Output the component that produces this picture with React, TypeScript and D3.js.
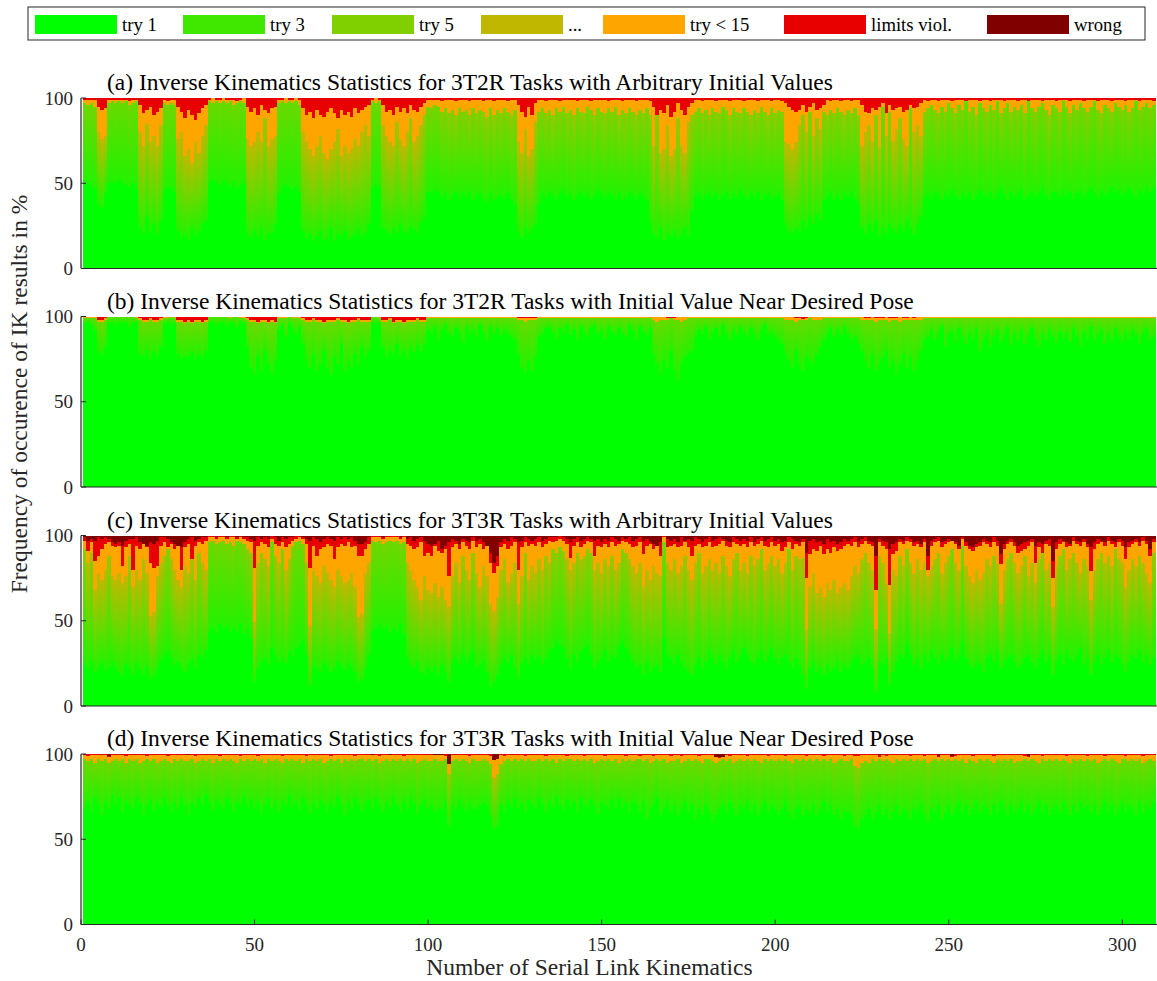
import React from "react";
import * as d3 from "d3";

// IK statistics per serial-link kinematics (bars 1..309), cumulative tops in %
// try1Top: end of "try 1", greenTop: end of the retry tries (try 2 ... ),
// orangeTop: end of "try < 15", redTop: end of "limits viol." (rest up to 100 = "wrong")

const legendLabels = ["try 1", "try 3", "try 5", "...", "try < 15", "limits viol.", "wrong"];
const legendColors = ["#00ff00", "#40e800", "#80d000", "#c0b800", "#ffa500", "#e80000", "#800000"];

const titles = [
  "(a) Inverse Kinematics Statistics for 3T2R Tasks with Arbitrary Initial Values",
  "(b) Inverse Kinematics Statistics for 3T2R Tasks with Initial Value Near Desired Pose",
  "(c) Inverse Kinematics Statistics for 3T3R Tasks with Arbitrary Initial Values",
  "(d) Inverse Kinematics Statistics for 3T3R Tasks with Initial Value Near Desired Pose",
];

const xTicks = [0, 50, 100, 150, 200, 250, 300];
const yTicks = [0, 50, 100];

// ---------- (a) 3T2R arbitrary ----------
const aTry1Top = [
  49,50,48,47,38,36,44,50,51,50, 52,50,49,48,50,46,24,20,30,22,
  26,20,28,46,48,47,45,22,18,20, 17,24,19,22,26,28,50,52,51,49,
  52,50,48,51,47,49,50,20,18,22, 19,24,17,20,21,26,44,47,49,48,
  46,48,45,22,18,20,16,19,22,17, 18,24,16,20,19,22,17,18,20,23,
  19,21,26,47,49,48,24,22,20,24, 21,26,22,20,25,23,21,27,30,45,
  44,46,45,42,44,40,43,45,41,44, 42,45,40,43,44,41,39,44,40,42,
  43,41,44,40,38,22,18,24,20,23, 26,38,44,42,45,43,41,44,46,42,
  44,40,43,45,42,44,41,43,46,44, 42,45,43,41,44,40,42,45,43,41,
  44,42,40,28,20,18,24,17,21,19, 22,18,20,24,19,34,42,44,41,43,
  45,42,44,40,43,45,41,44,42,46, 43,41,44,42,45,40,43,44,41,42,
  44,40,26,22,20,24,22,28,24,30, 26,32,28,40,42,44,41,43,40,44,
  42,45,41,38,24,20,26,22,28,19, 24,21,26,23,20,25,22,28,24,20,
  26,30,42,44,41,45,43,40,44,42, 46,43,41,44,42,45,40,43,46,44,
  42,45,41,44,47,43,40,45,42,44, 46,41,43,45,42,44,47,43,40,45,
  44,42,46,43,45,41,44,46,42,45, 47,44,42,46,43,45,48,44,46,43,
  45,47,44,42,46,44,48,45,47,
];
const aGreenTop = [
  97,96,97,95,80,76,78,97,98,97, 98,97,98,96,97,98,80,72,85,74,
  78,72,84,97,96,97,96,76,80,66, 70,62,74,68,78,84,98,97,98,97,
  98,97,98,96,97,98,97,76,72,74, 80,74,88,72,76,78,97,98,97,98,
  97,98,96,80,74,70,66,72,78,68, 64,70,74,82,66,72,68,70,76,72,
  80,84,78,98,97,98,84,78,74,72, 86,76,72,80,88,74,78,84,90,95,
  94,96,95,92,94,91,93,90,94,92, 93,90,94,91,93,92,89,94,90,93,
  91,94,92,90,93,74,68,82,66,70, 86,92,94,91,93,90,94,92,95,91,
  93,90,94,92,91,95,93,90,94,92, 91,94,92,95,90,93,91,94,92,90,
  93,91,94,90,72,90,68,70,84,66, 70,88,72,68,86,90,92,94,91,93,
  90,94,92,91,95,93,90,94,92,91, 94,92,90,93,91,95,92,90,94,91,
  93,92,74,73,70,74,84,90,80,92, 78,88,82,92,90,93,91,94,92,90,
  93,91,94,90,72,80,84,74,90,71, 95,78,92,75,82,88,76,72,94,80,
  84,78,92,94,96,93,91,95,92,97, 94,91,96,93,98,92,95,90,97,94,
  92,96,93,98,91,94,97,92,95,93, 96,91,98,94,92,95,97,93,90,96,
  94,92,98,95,91,96,93,97,94,92, 95,98,93,91,96,94,92,97,95,93,
  96,92,94,98,93,95,97,94,96,
];
const aOrangeTop = [
  99,99,99,99,95,93,94,99,99,99, 99,99,99,98,99,99,96,91,93,95,
  90,92,94,99,98,99,99,95,92,88, 93,90,87,91,94,96,99,100,99,99,
  100,99,99,99,98,99,100,95,92,94, 90,96,93,91,94,95,99,99,100,99,
  99,100,99,94,90,92,88,93,90,89, 92,94,91,88,93,90,92,89,94,91,
  93,95,96,99,100,99,96,92,93,90, 95,92,94,91,96,93,92,95,97,99,
  99,99,99,98,99,99,99,98,99,99, 99,98,99,99,99,98,99,99,98,99,
  99,99,98,99,99,96,92,89,95,90, 97,99,99,98,99,99,99,98,99,99,
  99,99,98,99,99,99,98,99,99,99, 99,98,99,99,99,98,99,99,99,98,
  99,99,99,98,95,90,93,91,96,89, 92,97,93,90,95,97,99,99,98,99,
  99,99,98,99,99,99,98,99,99,99, 98,99,99,99,98,99,99,99,98,99,
  99,98,97,95,93,92,93,96,92,95, 97,93,94,96,99,98,99,99,98,99,
  99,98,99,99,96,92,91,94,93,95, 97,91,96,93,94,95,92,93,96,94,
  95,97,99,98,99,99,98,99,99,99, 98,99,99,99,98,99,99,99,98,99,
  99,98,99,99,99,98,99,99,99,98, 99,99,98,99,99,99,98,99,99,99,
  98,99,99,99,98,99,99,99,98,99, 99,99,98,99,99,99,98,99,99,99,
  98,99,99,99,98,99,99,99,98,
];

// ---------- (b) 3T2R near desired pose ----------
const bTry1Top = [
  96,97,95,92,80,78,82,96,97,95, 97,96,97,94,96,97,78,76,80,75,
  79,77,82,96,97,95,96,78,75,77, 76,79,75,78,76,80,96,97,95,96,
  97,95,97,96,94,97,96,82,70,66, 76,68,80,72,66,74,92,95,88,96,
  93,90,94,84,74,70,78,68,72,80, 70,66,76,72,84,68,74,70,78,72,
  82,76,80,97,96,97,82,76,80,78, 84,77,80,75,82,79,83,80,84,92,
  90,94,86,92,95,90,88,93,91,85, 94,90,92,88,95,91,86,94,90,93,
  89,92,90,88,86,78,70,67,74,68, 76,88,90,93,94,91,87,93,90,95,
  89,92,86,94,91,88,93,95,90,92, 87,94,91,89,93,90,88,95,92,86,
  94,91,89,93,78,72,66,74,70,80, 68,63,72,76,78,80,88,92,90,94,
  87,91,93,88,95,90,86,92,89,94, 91,88,93,90,86,92,95,89,91,88,
  86,84,78,74,70,80,72,68,76,74, 72,78,82,86,90,93,88,92,89,94,
  90,86,88,84,80,74,70,78,68,72, 76,80,70,74,66,72,78,70,76,68,
  74,80,86,88,92,86,90,94,82,89, 91,85,93,88,84,91,87,93,80,86,
  90,82,88,92,85,89,94,83,90,86, 92,84,89,93,87,82,90,86,92,88,
  84,91,87,90,85,93,88,82,91,87, 94,86,89,92,84,90,86,93,88,85,
  91,87,92,89,84,90,93,86,88,
];
const bGreenTop = [
  99,99,99,99,97,97,98,100,100,100, 100,100,100,100,100,99,98,97,97,98,
  97,97,98,99,99,100,99,97,97,96, 97,96,97,97,96,97,100,100,100,100,
  100,100,99,100,100,99,99,98,97,97, 96,97,97,96,97,96,99,99,99,100,
  99,99,99,98,97,97,98,97,97,96, 97,97,97,98,97,97,96,97,97,98,
  97,97,97,100,100,99,97,97,98,96, 97,97,96,97,97,97,98,97,97,99,
  99,99,99,99,99,99,99,99,99,99, 99,99,99,99,99,99,99,99,99,99,
  99,99,99,99,99,98,98,97,98,98, 98,99,99,99,99,99,99,99,99,99,
  99,99,99,99,99,99,99,99,99,99, 99,99,99,99,99,99,99,99,99,99,
  99,99,99,99,98,97,98,98,98,99, 98,98,97,98,99,99,99,99,99,99,
  99,99,99,99,99,99,99,99,99,99, 99,99,99,99,99,99,99,99,99,99,
  99,99,98,98,98,97,98,98,98,99, 98,98,98,99,99,99,99,99,99,99,
  99,99,99,99,98,98,98,98,97,98, 98,98,97,98,98,97,98,98,98,98,
  98,98,99,99,99,99,99,99,99,99, 99,99,99,99,99,99,99,99,99,99,
  99,99,99,99,99,99,99,99,99,99, 99,99,99,99,99,99,99,99,99,99,
  99,99,99,99,99,99,99,99,99,99, 99,99,99,99,99,99,99,99,99,99,
  99,99,99,99,99,99,99,99,99,
];
const bOrangeTop = [
  100,100,100,100,98,98,99,100,100,100, 100,100,100,100,100,100,99,98,98,99,
  98,98,99,100,100,100,100,98,98,97, 98,97,98,98,97,98,100,100,100,100,
  100,100,100,100,100,100,100,99,98,98, 97,98,98,97,98,97,100,100,100,100,
  100,100,100,99,98,98,99,98,98,97, 98,98,98,99,98,98,97,98,98,99,
  98,98,98,100,100,100,98,98,99,97, 98,98,97,98,98,98,99,98,98,100,
  100,100,100,100,100,100,100,100,100,100, 100,100,100,100,100,100,100,100,100,100,
  100,100,100,100,100,99,99,99,99,99, 99,100,100,100,100,100,100,100,100,100,
  100,100,100,100,100,100,100,100,100,100, 100,100,100,100,100,100,100,100,100,100,
  100,100,100,100,99.5,99.5,99.5,99.5,99,98.5, 99,99.5,99.5,99.5,99.5,99.5,100,100,100,100,
  100,100,100,100,100,100,100,100,100,100, 100,100,100,100,100,100,100,100,100,100,
  100,100,99.5,99.5,99.5,99,99,98.5,99,99.5, 99.5,99.5,99.5,100,100,100,100,100,100,100,
  100,100,100,100,99.5,99,99,99.5,99,99, 99,99.5,99,99,99,99.5,99,99,99.5,99,
  99.5,99.5,100,100,100,100,100,100,100,100, 100,100,100,100,100,100,100,100,100,100,
  100,100,100,100,100,100,100,100,100,100, 100,100,100,100,100,100,100,100,100,100,
  100,100,100,100,100,100,100,100,100,99.5, 100,100,100,100,99.5,99.5,99.5,100,100,100,
  99.5,99.5,99.5,99.5,100,100,100,100,100,
];
const bRedTop = [
  100,100,100,100,100,100,100,100,100,100, 100,100,100,100,100,100,100,100,100,100,
  100,100,100,100,100,100,100,100,100,100, 99.7,100,100,100,100,100,100,100,100,100,
  100,100,100,100,100,100,100,100,100,100, 100,100,99.7,100,100,100,100,100,100,100,
  100,100,100,100,100,100,100,100,100,100, 100,100,100,100,100,100,100,100,100,100,
  100,100,100,100,100,100,100,100,100,100, 100,100,100,100,100,100,100,100,100,100,
  100,100,100,100,100,100,100,100,100,100, 100,100,100,100,100,100,100,100,100,100,
  100,100,100,100,100,100,100,100,100,100, 100,100,100,100,100,100,100,100,100,100,
  100,100,100,100,100,100,100,100,100,100, 100,100,100,100,100,100,100,100,100,100,
  100,100,100,100,100,100,99.6,100,100,100, 100,100,100,100,100,100,100,100,100,100,
  100,100,100,100,100,100,100,100,100,100, 100,100,100,100,100,100,100,100,100,100,
  100,100,100,100,100,100,100,100,100,100, 100,100,100,100,100,100,100,100,100,100,
  100,100,99.6,100,100,100,100,100,100,100, 100,100,100,100,100,100,100,100,100,100,
  100,100,100,100,100,100,100,100,100,100, 100,100,100,100,100,100,100,100,100,100,
  100,100,100,100,100,100,100,100,100,100, 100,100,100,100,100,100,100,100,100,100,
  100,100,100,100,100,100,100,100,100,100, 100,100,100,100,100,100,100,100,100,100,
  100,100,100,100,100,100,100,100,100,
];

// ---------- (c) 3T3R arbitrary ----------
const cTry1Top = [
  24,22,26,20,22,25,21,23,26,22, 20,18,24,22,19,25,21,18,23,16,
  18,22,27,30,32,28,24,26,22,20, 24,27,22,30,28,32,44,46,42,48,
  45,47,43,46,44,48,42,45,40,14, 22,26,28,24,34,30,26,28,25,32,
  29,34,36,38,30,12,24,22,20,25, 23,20,22,26,24,21,25,23,20,14,
  16,22,30,44,46,48,45,47,43,46, 44,48,42,28,24,22,26,20,18,22,
  20,23,18,24,20,14,26,28,24,30, 26,28,32,22,24,27,20,12,14,18,
  24,28,26,30,22,16,25,28,24,30, 27,29,24,28,32,34,38,36,34,28,
  22,30,26,32,34,36,30,22,26,28, 32,26,30,28,35,38,34,30,26,22,
  24,18,26,20,22,24,20,40,30,28, 24,30,26,22,20,18,24,28,22,26,
  32,28,24,30,26,22,28,32,26,30, 34,30,26,24,28,32,26,30,34,28,
  24,28,30,26,22,28,24,18,10,22, 26,20,22,18,24,20,22,26,20,24,
  22,26,28,30,24,26,28,22,8,26, 24,28,12,20,26,30,28,36,30,24,
  28,22,30,26,32,28,24,30,26,28, 34,26,30,38,28,24,22,26,24,20,
  28,30,26,32,22,26,28,30,26,22, 24,28,30,26,22,28,32,26,30,18,
  26,30,24,32,28,26,30,34,24,28, 18,26,30,24,28,32,26,30,28,24,
  20,26,30,28,32,26,30,24,28,
];
const cGreenTop = [
  92,84,90,68,78,74,80,88,76,74, 78,72,76,88,70,80,74,86,78,53,
  55,76,84,88,92,86,80,74,70,82, 78,86,74,90,84,80,96,97,95,96,
  97,95,96,94,97,96,95,92,90,49, 84,90,86,82,96,88,84,92,80,86,
  94,96,97,95,84,47,80,76,72,82, 78,74,70,80,76,72,74,78,70,52,
  54,78,84,97,96,97,95,96,97,96, 97,95,96,84,80,74,70,62,76,68,
  66,72,64,70,62,58,76,84,72,88, 80,74,90,78,70,82,76,60,56,64,
  80,86,72,78,84,60,76,90,74,82, 78,86,80,88,84,92,90,93,91,86,
  80,84,90,86,88,92,90,80,84,78, 86,82,88,80,84,92,90,86,82,78,
  84,70,80,74,82,78,76,96,84,80, 86,78,82,88,80,74,84,90,78,82,
  86,80,84,78,88,82,76,86,90,80, 84,78,88,82,86,92,80,84,88,82,
  86,78,84,92,80,88,86,87,45,70, 78,66,70,64,72,68,74,66,70,72,
  68,76,82,78,86,90,84,80,45,88, 84,72,43,80,76,88,82,92,84,78,
  86,80,84,76,82,86,90,78,84,88, 92,84,80,94,82,76,72,80,74,78,
  86,82,88,84,60,80,86,90,84,78, 82,88,76,84,72,86,90,80,84,58,
  82,88,92,80,86,90,84,78,86,82, 62,80,86,90,84,88,82,92,86,84,
  70,80,86,82,88,84,78,72,90,
];
const cOrangeTop = [
  97,91,96,85,88,92,95,96,94,93, 94,82,93,95,80,94,92,95,93,84,
  81,82,94,96,93,95,92,94,80,93, 95,86,94,96,95,97,99,99,98,99,
  99,98,99,99,98,99,98,97,96,81, 94,96,95,93,98,95,94,96,93,95,
  97,98,99,98,95,81,94,88,92,93, 95,94,86,93,95,94,96,93,94,88,
  88,92,95,99,99,99,98,99,99,99, 99,98,99,95,94,92,93,96,88,90,
  88,94,91,90,92,76,93,95,92,96, 94,92,97,93,95,92,94,84,78,82,
  93,95,92,94,96,80,93,96,94,95, 94,96,93,95,97,96,97,98,97,95,
  87,94,96,93,95,97,96,88,94,93, 95,93,96,94,95,97,96,95,93,94,
  96,89,94,95,92,94,88,99,93,94, 95,93,94,96,93,88,94,95,93,94,
  96,93,94,95,97,94,93,96,95,94, 95,93,96,94,95,97,94,93,96,94,
  95,91,93,96,92,95,94,96,75,89, 92,91,94,89,92,90,93,91,92,94,
  95,94,96,93,95,97,95,94,68,96, 94,92,71,89,91,96,95,97,96,94,
  95,93,96,80,94,96,97,93,95,96, 97,95,92,98,94,92,91,93,94,96,
  95,93,96,94,83,92,95,96,94,90, 91,92,94,96,84,93,90,95,94,75,
  92,95,96,93,94,97,95,94,96,93, 79,92,95,96,94,97,95,93,96,94,
  86,93,95,96,94,97,95,88,96,
];
const cRedTop = [
  99,97,98,97,99,98,99,98,96,95, 96,94,97,98,98,99,96,95,94,96,
  95,97,99,99,98,96,95,94,93,96, 98,99,97,98,99,99,100,100,99,100,
  100,99,100,100,99,100,99,99,98,97, 99,98,99,98,100,99,97,99,98,99,
  99,100,100,99,98,97,99,98,96,98, 99,98,97,99,98,99,98,99,97,95,
  95,96,99,100,100,100,99,100,100,100, 100,99,100,98,99,97,98,99,97,95,
  94,95,97,92,94,96,98,97,95,98, 97,96,99,97,98,96,94,90,84,88,
  96,98,97,99,98,96,97,99,98,97, 98,99,97,98,99,99,99,100,99,98,
  96,98,99,97,98,99,98,97,98,96, 98,97,99,98,97,99,98,99,97,98,
  99,97,98,96,95,94,96,100,98,97, 98,96,99,97,98,97,99,98,96,98,
  99,97,98,99,98,97,96,99,98,97, 98,97,99,96,98,99,97,98,99,97,
  98,96,97,99,98,97,96,98,90,97, 98,96,97,95,98,96,97,95,96,98,
  97,98,99,96,98,99,97,96,88,98, 97,96,92,95,96,98,97,99,98,96,
  97,95,98,88,97,98,99,96,97,98, 97,96,94,99,96,94,93,95,96,98,
  97,96,99,97,89,95,97,98,96,94, 95,96,97,98,94,96,95,97,98,85,
  96,98,97,96,95,99,97,96,98,95, 93,96,98,97,96,99,97,96,98,97,
  93,96,97,98,96,99,97,92,98,
];

// ---------- (d) 3T3R near desired pose ----------
const dTry1Top = [
  68,72,66,74,70,64,72,68,76,70, 74,66,72,70,68,75,71,64,70,73,
  67,72,69,74,70,66,72,68,75,70, 64,71,68,74,70,76,72,67,73,70,
  68,74,71,66,72,70,75,69,73,68, 71,65,70,74,68,72,66,73,70,76,
  69,72,67,74,70,65,71,68,73,70, 66,72,69,75,70,64,72,68,74,70,
  67,71,73,68,74,70,66,72,69,75, 70,66,72,68,74,71,65,70,73,68,
  70,66,68,68,72,58,70,67,73,69, 66,71,68,68,70,72,70,64,56,58,
  70,66,72,69,74,68,71,66,73,70, 68,74,70,66,72,69,75,70,67,73,
  69,72,66,74,70,68,73,70,65,72, 70,67,73,69,74,68,71,66,72,70,
  66,72,62,68,70,74,64,68,72,66, 70,64,68,72,66,70,62,68,64,70,
  66,60,64,68,70,66,72,68,64,70, 68,72,66,70,64,68,72,66,70,68,
  64,68,72,66,62,68,70,64,68,66, 70,64,68,72,66,70,64,68,62,66,
  66,64,58,56,62,64,68,62,66,70, 64,68,62,66,70,64,68,66,62,68,
  66,70,64,60,68,66,70,62,66,70, 64,68,72,66,70,64,68,72,66,70,
  68,64,70,66,72,68,64,70,66,68, 72,66,70,64,68,72,66,70,64,68,
  70,66,72,68,64,70,66,72,68,70, 66,70,64,68,72,66,70,64,68,72,
  66,70,68,64,72,66,70,68,72,
];
const dGreenTop = [
  97,96,97,95,97,96,97,95,96,97, 96,97,95,97,96,97,95,96,97,96,
  97,95,96,97,96,95,97,96,97,96, 96,97,95,96,97,96,97,95,97,96,
  97,96,97,96,95,97,96,97,96,97, 96,97,95,97,96,97,96,95,97,96,
  97,96,97,95,97,96,97,96,97,95, 96,97,96,97,95,97,96,97,96,97,
  97,96,97,96,97,95,96,97,96,97, 96,97,96,97,96,97,95,96,97,96,
  96,97,96,96,97,88,96,97,96,97, 96,95,97,96,96,97,96,94,86,88,
  94,96,97,96,97,96,97,96,97,96, 96,97,96,97,96,97,95,97,96,97,
  97,96,97,96,97,96,97,95,96,97, 96,97,96,97,95,97,96,97,96,97,
  97,96,97,95,96,97,96,97,95,96, 96,97,95,96,97,96,97,96,95,97,
  97,96,95,96,97,96,97,95,96,97, 96,97,96,97,96,95,97,96,97,96,
  97,96,97,96,95,97,96,97,96,97, 96,97,96,97,96,97,95,96,97,96,
  96,97,93,92,95,96,95,97,96,97, 96,97,96,95,97,96,97,96,97,96,
  97,96,97,95,96,97,96,97,96,97, 96,97,96,97,95,97,96,95,97,96,
  97,96,95,97,96,97,96,97,95,96, 96,97,96,97,96,95,97,96,97,96,
  97,96,97,96,95,97,96,97,96,97, 96,97,95,96,97,96,97,96,95,97,
  97,96,97,96,97,95,96,97,96,
];
const dOrangeTop = [
  99.5,99,99.5,99.5,99.5,99.5,99.5,98.5,99.5,99.5, 99.5,99.5,99,99.5,99.5,99.5,99.5,99.5,99,99.5,
  99.5,99.5,99.5,99.5,99,99.5,99.5,99.5,99.5,99.5, 99.5,99.5,99,99.5,99.5,99.5,99.5,99.5,99.5,99,
  99.5,99.5,99.5,99.5,99.5,99,99.5,99.5,99.5,99.5, 99,99.5,99.5,99.5,99.5,99.5,99.5,99,99.5,99.5,
  99.5,99.5,99.5,99.5,99,99.5,99.5,99.5,99.5,99.5, 99.5,99,99.5,99.5,99.5,99.5,99.5,99.5,99,99.5,
  99.5,99.5,99.5,99.5,99.5,99,99.5,99.5,99.5,99.5, 99.5,99.5,99,99.5,99.5,99.5,99.5,99.5,99.5,99.5,
  99.5,99.5,99.5,99.5,99,94,99.5,99.5,99.5,99.5, 99.5,99,99.5,99.5,99.5,99.5,99.5,99,96.5,97,
  99.5,99,99.5,99.5,99.5,99.5,99.5,99,99.5,99.5, 99.5,99.5,99.5,99,99.5,99.5,99.5,99.5,99.5,99,
  99.5,99.5,99.5,99.5,99,99.5,99.5,99.5,99.5,99.5, 99,99.5,99.5,99.5,99.5,99.5,99,99.5,99.5,99.5,
  99,99.5,99.5,99.5,99,99.5,99.5,99.5,99.5,99, 99.5,99.5,99,99.5,99.5,99.5,99.5,99,99.5,99.5,
  99.5,99.5,98,97.5,98,99.5,99,99.5,99.5,99.5, 99.5,99,99.5,99.5,99.5,99.5,99.5,99,99.5,99.5,
  99.5,99.5,99,99.5,99.5,99.5,99.5,99.5,99,99.5, 99.5,99.5,99.5,99,99.5,99.5,99.5,99.5,99.5,99,
  99.5,99.5,99,99,99.5,99.5,99.5,99.5,99.5,98.5, 99.5,99,99.5,99.5,99.5,99.5,99.5,99.5,99,99.5,
  99.5,99.5,99,99.5,99.5,99.5,98.5,99.5,99.5,99.5, 98.5,99,99.5,99.5,99.5,99.5,99,99.5,99.5,99.5,
  99.5,99.5,99,99.5,99.5,99.5,99.5,99.5,99.5,99.5, 99.5,99,98.5,99.5,99.5,99.5,99,99.5,99.5,99.5,
  99.5,99.5,99.5,99,99.5,99.5,99.5,99.5,99.5,99, 99.5,99.5,99.5,99.5,99,99.5,99.5,99.5,99.5,99.5,
  99,99.5,99.5,99.5,99.5,99,99.5,99.5,99.5,
];
const dRedTop = [
  100,100,100,100,100,100,100,99,100,100, 100,100,100,100,100,100,100,100,100,100,
  100,100,100,100,100,100,100,100,100,100, 99.6,100,100,100,100,100,100,100,100,100,
  100,100,100,100,100,100,100,100,100,100, 100,100,100,100,100,100,100,100,100,100,
  100,100,100,100,100,100,100,100,100,100, 100,100,100,100,100,100,100,100,100,100,
  100,100,100,99.6,100,100,100,100,99.6,100, 100,100,100,100,100,100,100,100,100,100,
  100,99.6,99.6,99.6,100,94,100,100,100,100, 100,100,100,100,100,100,100,100,96.5,97,
  100,100,100,100,100,100,100,100,100,100, 100,100,100,100,100,100,100,100,100,100,
  100,100,100,100,100,100,100,100,100,100, 100,100,100,100,100,100,100,100,100,100,
  100,100,100,100,100,100,100,100,100,100, 100,100,100,100,100,100,100,100,100,100,
  100,100,98.5,98,98.5,100,100,100,100,100, 100,100,100,100,100,100,100,100,100,100,
  100,100,100,100,100,100,100,100,100,100, 100,100,100,100,100,100,100,100,100,100,
  100,100,100,100,100,100,100,100,100,99.5, 100,100,100,100,100,100,100,100,100,100,
  100,100,100,100,100,100,99,100,100,100, 98.8,100,100,100,100,100,100,100,100,100,
  100,100,100,100,100,100,100,100,100,100, 100,100,98.8,100,100,100,100,100,100,100,
  100,100,100,100,100,100,100,100,100,100, 100,100,100,100,100,100,100,100,100,100,
  100,100,100,100,100,100,100,100,100,
];

const panels = [
  { try1: aTry1Top, green: aGreenTop, orange: aOrangeTop, red: null },
  { try1: bTry1Top, green: bGreenTop, orange: bOrangeTop, red: bRedTop },
  { try1: cTry1Top, green: cGreenTop, orange: cOrangeTop, red: cRedTop },
  { try1: dTry1Top, green: dGreenTop, orange: dOrangeTop, red: dRedTop },
];

// layout
const W = 1157;
const H = 981;
const FONT = "'Liberation Serif', 'Times New Roman', Times, serif";
const panelTops = [98, 316.5, 535.5, 754];
const panelH = 170.5;
const legendX = [35, 183, 332, 481, 603, 784, 987];

const x = d3.scaleLinear().domain([0, 310]).range([81, 1157]);
const retryTop = d3.interpolateRgb("#40e800", "#c0b800");

function Panel({ idx, data }: { idx: number; data: any }) {
  const top = panelTops[idx];
  const y = d3.scaleLinear().domain([0, 100]).range([top + panelH, top]);
  const n = Math.min(data.try1.length, data.green.length, data.orange.length);
  const bars = d3.range(n).map((i) => {
    const g = data.green[i];
    const t1 = Math.min(data.try1[i], g);
    const o = Math.max(g, data.orange[i]);
    const r = Math.max(o, data.red ? data.red[i] : 100);
    return { k: i + 1, t1, g, o, r };
  });
  const seg = (b: any, lo: number, hi: number, fill: string, key: string) =>
    hi - lo > 0.01 ? (
      <rect key={key} x={x(b.k - 0.5)} width={x(b.k + 0.5) - x(b.k - 0.5) + 0.5}
        y={y(hi)} height={y(lo) - y(hi)} fill={fill} />
    ) : null;

  return (
    <g>
      <defs>
        {bars.map((b) => (
          <linearGradient key={b.k} id={`rz${idx}_${b.k}`} x1="0" y1="1" x2="0" y2="0">
            <stop offset="0" stopColor="#22f300" />
            <stop offset="1" stopColor={retryTop(Math.max(0, Math.min(1, 0.2 + (100 - b.g) / 22)))} />
          </linearGradient>
        ))}
      </defs>
      <g shapeRendering="crispEdges">
        {bars.map((b) => (
          <g key={b.k}>
            {seg(b, 0, b.t1, legendColors[0], "t")}
            {seg(b, b.t1, b.g, `url(#rz${idx}_${b.k})`, "g")}
            {seg(b, b.g, b.o, legendColors[4], "o")}
            {seg(b, b.o, b.r, legendColors[5], "r")}
            {seg(b, b.r, 100, legendColors[6], "w")}
          </g>
        ))}
      </g>
      {/* axes */}
      <line x1={81} x2={81} y1={top} y2={top + panelH} stroke="#262626" strokeWidth={1.2} />
      <line x1={81} x2={W} y1={top + panelH} y2={top + panelH} stroke="#262626" strokeWidth={1} />
      {yTicks.map((v) => (
        <g key={v}>
          <line x1={81} x2={86} y1={y(v)} y2={y(v)} stroke="#262626" />
          <text x={73} y={y(v) + 6.5} textAnchor="end" fontSize={19} fontFamily={FONT} fill="#262626">{v}</text>
        </g>
      ))}
      <text x={107} y={top - 8} fontSize={23.5} fontFamily={FONT} fill="#000">{titles[idx]}</text>
      {idx === 3 && xTicks.map((v) => (
        <g key={v}>
          <line x1={x(v)} x2={x(v)} y1={top + panelH} y2={top + panelH - 5} stroke="#262626" />
          <text x={x(v)} y={951} textAnchor="middle" fontSize={19} fontFamily={FONT} fill="#262626">{v}</text>
        </g>
      ))}
    </g>
  );
}

export default function App() {
  return (
    <svg width={W} height={H} style={{ position: "absolute", left: 0, top: 0, background: "#fff" }}>
      <rect width={W} height={H} fill="#fff" />
      {/* legend */}
      <rect x={28} y={7} width={1117} height={33} fill="#fff" stroke="#262626" strokeWidth={1} />
      {legendLabels.map((l, i) => (
        <g key={l}>
          <rect x={legendX[i]} y={15} width={82} height={19} fill={legendColors[i]} />
          <text x={legendX[i] + 87} y={31} fontSize={18.7} fontFamily={FONT} fill="#000">{l}</text>
        </g>
      ))}
      {panels.map((p, i) => <Panel key={i} idx={i} data={p} />)}
      <text x={589.5} y={975} textAnchor="middle" fontSize={23.5} fontFamily={FONT} fill="#262626">
        Number of Serial Link Kinematics
      </text>
      <text transform="translate(27,394) rotate(-90)" textAnchor="middle" fontSize={23.5} fontFamily={FONT} fill="#262626">
        Frequency of occurence of IK results in %
      </text>
    </svg>
  );
}
